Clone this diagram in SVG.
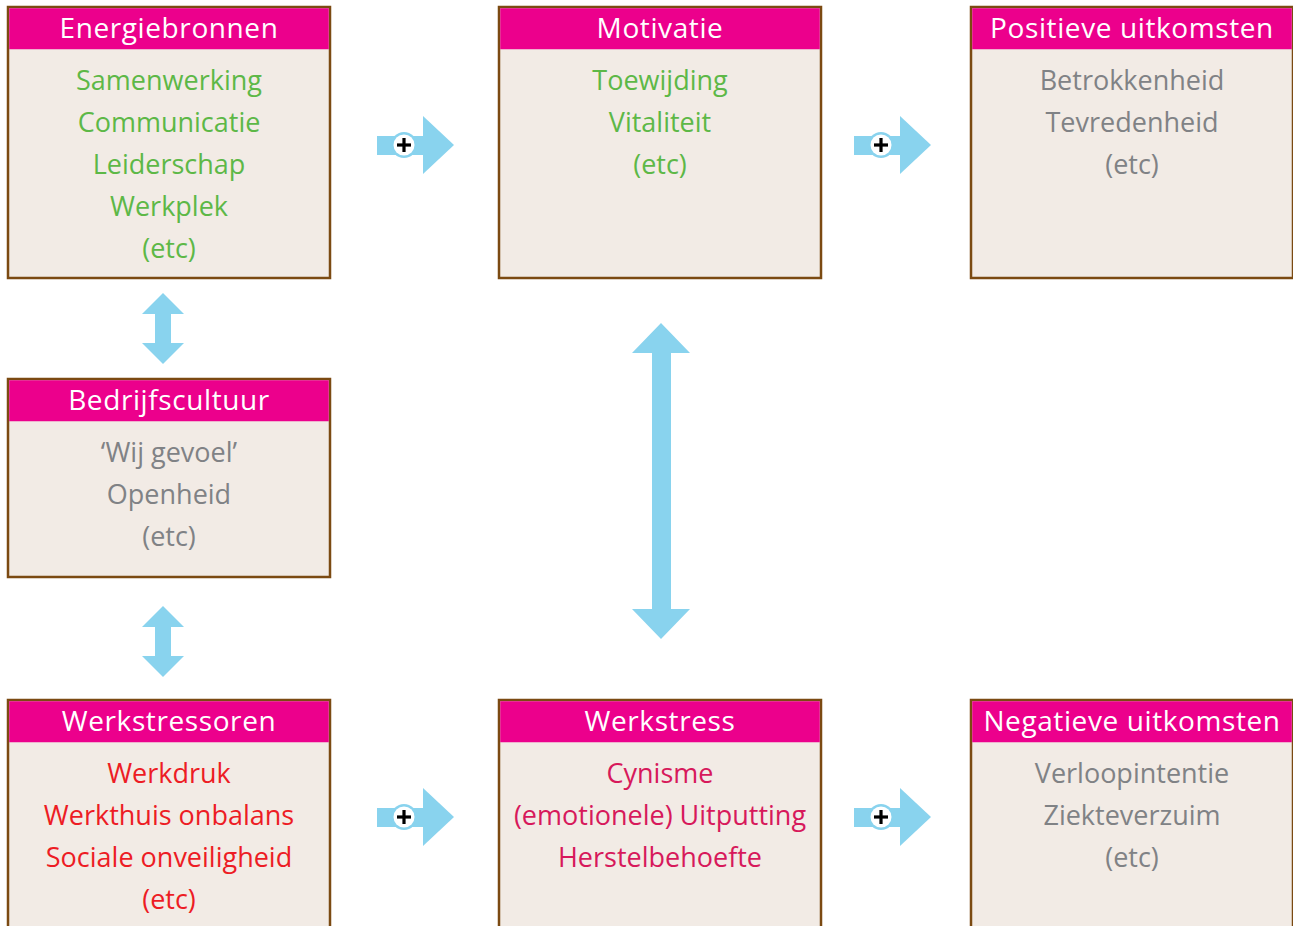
<svg xmlns="http://www.w3.org/2000/svg" width="1293" height="926" viewBox="0 0 1293 926">
<style>
.box{fill:#F2EBE5;stroke:#7B4A12;stroke-width:2.5}
.hdr{fill:#EC008C}
.ht{font-family:"Open Sans","Noto Sans",sans-serif;font-size:28px;letter-spacing:0.6px;fill:#fff;text-anchor:middle}
.bt{font-family:"Open Sans","Noto Sans",sans-serif;font-size:27px;text-anchor:middle}
.g{fill:#5DB847}.gr{fill:#808285}.r{fill:#ED1C24}.c{fill:#D7195B}
.arr{fill:#89D3EE}
</style>
<defs>
<g id="plusArrow">
<rect x="0" y="-9" width="48" height="19" class="arr"/>
<polygon points="46,-29 77,0 46,29" class="arr"/>
<circle cx="27" cy="0" r="13" class="arr"/>
<circle cx="27" cy="0" r="10.5" fill="#fff"/>
<rect x="20" y="-1.6" width="14" height="3.2" fill="#000"/>
<rect x="25.4" y="-7" width="3.2" height="14" fill="#000"/>
</g>
</defs>

<g id="energiebronnen">
<rect x="8" y="7" width="322" height="271" class="box"/>
<rect x="9.25" y="8.25" width="319.5" height="41" class="hdr"/>
<text x="169" y="38" class="ht">Energiebronnen</text>
<text x="169" y="90" class="bt g">Samenwerking</text>
<text x="169" y="132" class="bt g">Communicatie</text>
<text x="169" y="174" class="bt g">Leiderschap</text>
<text x="169" y="216" class="bt g">Werkplek</text>
<text x="169" y="258" class="bt g">(etc)</text>
</g>

<g id="motivatie">
<rect x="499" y="7" width="322" height="271" class="box"/>
<rect x="500.25" y="8.25" width="319.5" height="41" class="hdr"/>
<text x="660" y="38" class="ht">Motivatie</text>
<text x="660" y="90" class="bt g">Toewijding</text>
<text x="660" y="132" class="bt g">Vitaliteit</text>
<text x="660" y="174" class="bt g">(etc)</text>
</g>

<g id="positieve-uitkomsten">
<rect x="971" y="7" width="322" height="271" class="box"/>
<rect x="972.25" y="8.25" width="319.5" height="41" class="hdr"/>
<text x="1132" y="38" class="ht">Positieve uitkomsten</text>
<text x="1132" y="90" class="bt gr">Betrokkenheid</text>
<text x="1132" y="132" class="bt gr">Tevredenheid</text>
<text x="1132" y="174" class="bt gr">(etc)</text>
</g>

<g id="bedrijfscultuur">
<rect x="8" y="379" width="322" height="198" class="box"/>
<rect x="9.25" y="380.25" width="319.5" height="41" class="hdr"/>
<text x="169" y="410" class="ht">Bedrijfscultuur</text>
<text x="169" y="462" class="bt gr">‘Wij gevoel’</text>
<text x="169" y="504" class="bt gr">Openheid</text>
<text x="169" y="546" class="bt gr">(etc)</text>
</g>

<g id="werkstressoren">
<rect x="8" y="700" width="322" height="240" class="box"/>
<rect x="9.25" y="701.25" width="319.5" height="41" class="hdr"/>
<text x="169" y="731" class="ht">Werkstressoren</text>
<text x="169" y="783" class="bt r">Werkdruk</text>
<text x="169" y="825" class="bt r">Werkthuis onbalans</text>
<text x="169" y="867" class="bt r">Sociale onveiligheid</text>
<text x="169" y="909" class="bt r">(etc)</text>
</g>

<g id="werkstress">
<rect x="499" y="700" width="322" height="240" class="box"/>
<rect x="500.25" y="701.25" width="319.5" height="41" class="hdr"/>
<text x="660" y="731" class="ht">Werkstress</text>
<text x="660" y="783" class="bt c">Cynisme</text>
<text x="660" y="825" class="bt c">(emotionele) Uitputting</text>
<text x="660" y="867" class="bt c">Herstelbehoefte</text>
</g>

<g id="negatieve-uitkomsten">
<rect x="971" y="700" width="322" height="240" class="box"/>
<rect x="972.25" y="701.25" width="319.5" height="41" class="hdr"/>
<text x="1132" y="731" class="ht">Negatieve uitkomsten</text>
<text x="1132" y="783" class="bt gr">Verloopintentie</text>
<text x="1132" y="825" class="bt gr">Ziekteverzuim</text>
<text x="1132" y="867" class="bt gr">(etc)</text>
</g>

<g id="connectors">
<use href="#plusArrow" x="377" y="145"/>
<use href="#plusArrow" x="854" y="145"/>
<use href="#plusArrow" x="377" y="817"/>
<use href="#plusArrow" x="854" y="817"/>
<polygon points="163,293 184,314 171,314 171,343 184,343 163,364 142,343 155,343 155,314 142,314" class="arr"/>
<polygon points="163,606 184,627 171,627 171,656 184,656 163,677 142,656 155,656 155,627 142,627" class="arr"/>
<polygon points="661,323 690,353 671,353 671,609 690,609 661,639 632,609 652,609 652,353 632,353" class="arr"/>
</g>
</svg>
